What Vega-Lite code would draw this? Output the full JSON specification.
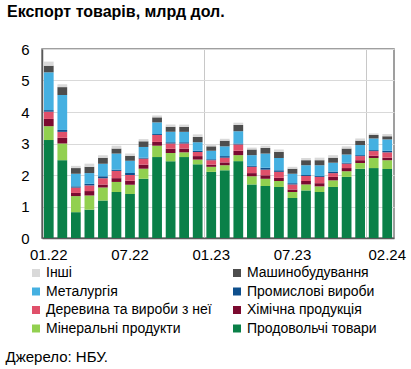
{
  "$schema": "https://vega.github.io/schema/vega-lite/v6.json",
  "width": 352,
  "height": 189,
  "autosize": {"type": "none"},
  "padding": {"left": 42, "top": 49, "right": 17, "bottom": 131},
  "title": {"text": "Експорт товарів, млрд дол.", "anchor": "start", "frame": "group", "dx": -35, "offset": 22, "fontSize": 16, "font": "Liberation Sans", "fontWeight": "bold", "color": "#000000"},
  "data": {"values": [
    {"m": "01.22", "Продовольчі товари": 3.11, "Мінеральні продукти": 0.44, "Хімічна продукція": 0.23, "Деревина та вироби з неї": 0.23, "Промислові вироби": 0.05, "Металургія": 1.20, "Машинобудування": 0.21, "Інші": 0.13},
    {"m": "02.22", "Продовольчі товари": 2.47, "Мінеральні продукти": 0.53, "Хімічна продукція": 0.18, "Деревина та вироби з неї": 0.19, "Промислові вироби": 0.06, "Металургія": 1.11, "Машинобудування": 0.25, "Інші": 0.09},
    {"m": "03.22", "Продовольчі товари": 0.82, "Мінеральні продукти": 0.51, "Хімічна продукція": 0.10, "Деревина та вироби з неї": 0.17, "Промислові вироби": 0.04, "Металургія": 0.40, "Машинобудування": 0.18, "Інші": 0.07},
    {"m": "04.22", "Продовольчі товари": 0.90, "Мінеральні продукти": 0.45, "Хімічна продукція": 0.14, "Деревина та вироби з неї": 0.18, "Промислові вироби": 0.05, "Металургія": 0.34, "Машинобудування": 0.20, "Інші": 0.10},
    {"m": "05.22", "Продовольчі товари": 1.19, "Мінеральні продукти": 0.41, "Хімічна продукція": 0.10, "Деревина та вироби з неї": 0.20, "Промислові вироби": 0.06, "Металургія": 0.40, "Машинобудування": 0.19, "Інші": 0.08},
    {"m": "06.22", "Продовольчі товари": 1.46, "Мінеральні продукти": 0.32, "Хімічна продукція": 0.12, "Деревина та вироби з неї": 0.23, "Промислові вироби": 0.04, "Металургія": 0.51, "Машинобудування": 0.16, "Інші": 0.09},
    {"m": "07.22", "Продовольчі товари": 1.40, "Мінеральні продукти": 0.29, "Хімічна продукція": 0.13, "Деревина та вироби з неї": 0.18, "Промислові вироби": 0.06, "Металургія": 0.39, "Машинобудування": 0.16, "Інші": 0.07},
    {"m": "08.22", "Продовольчі товари": 1.88, "Мінеральні продукти": 0.32, "Хімічна продукція": 0.13, "Деревина та вироби з неї": 0.19, "Промислові вироби": 0.03, "Металургія": 0.34, "Машинобудування": 0.18, "Інші": 0.07},
    {"m": "09.22", "Продовольчі товари": 2.57, "Мінеральні продукти": 0.36, "Хімічна продукція": 0.12, "Деревина та вироби з неї": 0.22, "Промислові вироби": 0.03, "Металургія": 0.37, "Машинобудування": 0.16, "Інші": 0.06},
    {"m": "10.22", "Продовольчі товари": 2.44, "Мінеральні продукти": 0.26, "Хімічна продукція": 0.13, "Деревина та вироби з неї": 0.17, "Промислові вироби": 0.04, "Металургія": 0.33, "Машинобудування": 0.16, "Інші": 0.07},
    {"m": "11.22", "Продовольчі товари": 2.57, "Мінеральні продукти": 0.15, "Хімічна продукція": 0.12, "Деревина та вироби з неї": 0.16, "Промислові вироби": 0.04, "Металургія": 0.33, "Машинобудування": 0.16, "Інші": 0.07},
    {"m": "12.22", "Продовольчі товари": 2.34, "Мінеральні продукти": 0.15, "Хімічна продукція": 0.11, "Деревина та вироби з неї": 0.13, "Промислові вироби": 0.04, "Металургія": 0.27, "Машинобудування": 0.17, "Інші": 0.08},
    {"m": "01.23", "Продовольчі товари": 2.10, "Мінеральні продукти": 0.16, "Хімічна продукція": 0.07, "Деревина та вироби з неї": 0.14, "Промислові вироби": 0.03, "Металургія": 0.27, "Машинобудування": 0.14, "Інші": 0.06},
    {"m": "02.23", "Продовольчі товари": 2.15, "Мінеральні продукти": 0.16, "Хімічна продукція": 0.09, "Деревина та вироби з неї": 0.15, "Промислові вироби": 0.05, "Металургія": 0.31, "Машинобудування": 0.18, "Інші": 0.06},
    {"m": "03.23", "Продовольчі товари": 2.44, "Мінеральні продукти": 0.19, "Хімічна продукція": 0.14, "Деревина та вироби з неї": 0.20, "Промислові вироби": 0.03, "Металургія": 0.39, "Машинобудування": 0.20, "Інші": 0.07},
    {"m": "04.23", "Продовольчі товари": 1.70, "Мінеральні продукти": 0.26, "Хімічна продукція": 0.10, "Деревина та вироби з неї": 0.20, "Промислові вироби": 0.03, "Металургія": 0.34, "Машинобудування": 0.18, "Інші": 0.06},
    {"m": "05.23", "Продовольчі товари": 1.65, "Мінеральні продукти": 0.23, "Хімічна продукція": 0.11, "Деревина та вироби з неї": 0.18, "Промислові вироби": 0.06, "Металургія": 0.45, "Машинобудування": 0.18, "Інші": 0.07},
    {"m": "06.23", "Продовольчі товари": 1.62, "Мінеральні продукти": 0.19, "Хімічна продукція": 0.10, "Деревина та вироби з неї": 0.19, "Промислові вироби": 0.05, "Металургія": 0.39, "Машинобудування": 0.19, "Інші": 0.08},
    {"m": "07.23", "Продовольчі товари": 1.27, "Мінеральні продукти": 0.19, "Хімічна продукція": 0.08, "Деревина та вироби з неї": 0.16, "Промислові вироби": 0.04, "Металургія": 0.30, "Машинобудування": 0.16, "Інші": 0.06},
    {"m": "08.23", "Продовольчі товари": 1.51, "Мінеральні продукти": 0.19, "Хімічна продукція": 0.11, "Деревина та вироби з неї": 0.16, "Промислові вироби": 0.03, "Металургія": 0.31, "Машинобудування": 0.16, "Інші": 0.07},
    {"m": "09.23", "Продовольчі товари": 1.46, "Мінеральні продукти": 0.18, "Хімічна продукція": 0.10, "Деревина та вироби з неї": 0.20, "Промислові вироби": 0.03, "Металургія": 0.34, "Машинобудування": 0.16, "Інші": 0.08},
    {"m": "10.23", "Продовольчі товари": 1.62, "Мінеральні продукти": 0.21, "Хімічна продукція": 0.11, "Деревина та вироби з неї": 0.12, "Промислові вироби": 0.05, "Металургія": 0.28, "Машинобудування": 0.16, "Інші": 0.08},
    {"m": "11.23", "Продовольчі товари": 1.94, "Мінеральні продукти": 0.18, "Хімічна продукція": 0.10, "Деревина та вироби з неї": 0.14, "Промислові вироби": 0.03, "Металургія": 0.26, "Машинобудування": 0.19, "Інші": 0.07},
    {"m": "12.23", "Продовольчі товари": 2.20, "Мінеральні продукти": 0.18, "Хімічна продукція": 0.09, "Деревина та вироби з неї": 0.13, "Промислові вироби": 0.03, "Металургія": 0.32, "Машинобудування": 0.14, "Інші": 0.07},
    {"m": "01.24", "Продовольчі товари": 2.22, "Мінеральні продукти": 0.32, "Хімічна продукція": 0.07, "Деревина та вироби з неї": 0.15, "Промислові вироби": 0.03, "Металургія": 0.37, "Машинобудування": 0.11, "Інші": 0.05},
    {"m": "02.24", "Продовольчі товари": 2.19, "Мінеральні продукти": 0.28, "Хімічна продукція": 0.08, "Деревина та вироби з неї": 0.17, "Промислові вироби": 0.05, "Металургія": 0.36, "Машинобудування": 0.10, "Інші": 0.07}
  ]},
  "transform": [
    {"fold": ["Продовольчі товари", "Мінеральні продукти", "Хімічна продукція", "Деревина та вироби з неї", "Промислові вироби", "Металургія", "Машинобудування", "Інші"], "as": ["cat", "v"]},
    {"window": [{"op": "row_number", "as": "k"}], "groupby": ["m"]}
  ],
  "mark": {"type": "bar", "width": {"band": 0.72}},
  "encoding": {
    "x": {
      "field": "m", "type": "ordinal", "sort": null,
      "scale": {"paddingInner": 0, "paddingOuter": 0},
      "axis": {
        "values": ["01.22", "07.22", "01.23", "07.23", "01.24", "02.24"],
        "labelExpr": "datum.value == '01.24' ? '' : datum.value",
        "bandPosition": 0,
        "labelAngle": 0,
        "labelFontSize": 15,
        "labelColor": "#000000",
        "labelPadding": 9,
        "ticks": false,
        "domainColor": "#595959",
        "domainWidth": 1.5,
        "grid": true,
        "gridColor": "#c8c8c8",
        "gridOpacity": {"condition": {"test": "datum.value == '01.23' || datum.value == '01.24'", "value": 1}, "value": 0},
        "title": "Джерело: НБУ.",
        "titleX": -37,
        "titleY": 123,
        "titleAnchor": "start",
        "titleAlign": "left",
        "titleBaseline": "alphabetic",
        "titleFontWeight": "normal",
        "titleFontSize": 15,
        "titleColor": "#000000"
      }
    },
    "y": {
      "field": "v", "type": "quantitative", "stack": "zero",
      "scale": {"domain": [0, 6], "nice": false},
      "axis": {
        "values": [0, 1, 2, 3, 4, 5, 6],
        "title": null,
        "grid": true,
        "gridColor": "#d9d9d9",
        "ticks": false,
        "labelPadding": 13,
        "labelFontSize": 15,
        "labelColor": "#000000",
        "domainColor": "#595959",
        "domainWidth": 1.5
      }
    },
    "order": {"field": "k", "type": "quantitative", "sort": "ascending"},
    "color": {
      "field": "cat", "type": "nominal",
      "scale": {
        "domain": ["Інші", "Машинобудування", "Металургія", "Промислові вироби", "Деревина та вироби з неї", "Хімічна продукція", "Мінеральні продукти", "Продовольчі товари"],
        "range": ["#d9d9d9", "#4d4d4d", "#45b0e1", "#0e4f8c", "#e0506a", "#7b0a30", "#92d050", "#0a8048"]
      },
      "legend": {
        "orient": "none",
        "legendX": -13,
        "legendY": 217,
        "columns": 2,
        "direction": "horizontal",
        "title": null,
        "symbolType": "square",
        "symbolSize": 64,
        "symbolStrokeWidth": 0,
        "labelFontSize": 14,
        "labelColor": "#000000",
        "labelOffset": 3,
        "rowPadding": 4.5,
        "columnPadding": 18,
        "labelLimit": 300
      }
    }
  },
  "config": {
    "font": "Liberation Sans",
    "view": {"stroke": "#808080", "strokeWidth": 1.5}
  }
}
